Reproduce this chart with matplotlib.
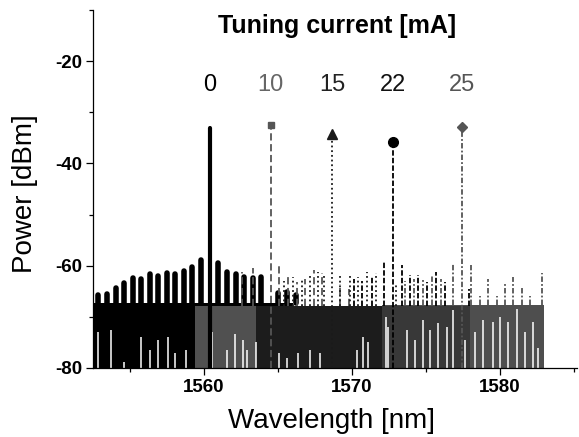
import numpy as np
import matplotlib
matplotlib.use('Agg')
import matplotlib.pyplot as plt
from matplotlib.ticker import MultipleLocator

plt.rcParams['font.family'] = ['Liberation Sans', 'DejaVu Sans']
plt.rcParams['axes.unicode_minus'] = False

# ---- data ----
currents = ['0', '10', '15', '22', '25']
peak_wl = [1560.4, 1564.5, 1568.65, 1572.8, 1577.4]
peak_dbm = [-33.0, -32.5, -34.3, -35.9, -32.8]

# side modes of each spectrum
mode_wl_0 = [1552.86, 1553.47, 1554.03, 1554.62, 1555.19, 1555.74, 1556.35, 1556.91,
             1557.48, 1558.04, 1558.65, 1559.21, 1559.78, 1560.97, 1561.53, 1562.14,
             1562.72, 1563.29, 1563.85, 1565.02, 1565.6, 1566.2]
mode_dbm_0 = [-65.7, -65.5, -64.4, -63.4, -62.4, -62.6, -61.6, -62.0,
              -61.4, -61.6, -61.0, -60.3, -58.9, -59.4, -61.2, -61.6,
              -62.2, -62.4, -62.2, -65.3, -65.1, -65.7]
mode_wl_10 = [1562.6, 1563.3, 1565.1, 1565.7, 1566.3, 1566.85, 1567.4, 1568.0, 1569.2, 1569.8]
mode_dbm_10 = [-61.2, -60.5, -59.9, -62.2, -63.1, -62.6, -60.9, -61.5, -63.5, -64.5]
mode_wl_15 = [1565.4, 1566.0, 1566.6, 1567.15, 1567.7, 1568.1, 1569.19, 1569.86,
              1570.43, 1571.04, 1571.62, 1573.0]
mode_dbm_15 = [-63.0, -62.2, -62.8, -62.0, -61.2, -61.6, -61.8, -61.8,
               -62.2, -61.2, -61.5, -63.5]
mode_wl_22 = [1570.1, 1570.7, 1571.35, 1572.18, 1573.36, 1573.92, 1574.48, 1575.09,
              1575.68, 1576.28, 1577.9]
mode_dbm_22 = [-62.6, -63.0, -62.3, -59.2, -59.9, -61.8, -61.9, -63.1,
               -61.2, -63.1, -64.5]
mode_wl_25 = [1573.6, 1574.2, 1574.8, 1575.4, 1576.0, 1576.85, 1578.02, 1578.65,
              1579.17, 1579.78, 1580.34, 1580.9, 1581.47, 1582.03, 1582.82]
mode_dbm_25 = [-63.0, -62.5, -62.8, -62.0, -62.5, -59.6, -59.9, -66.0,
               -62.5, -66.0, -63.4, -62.2, -64.4, -66.0, -61.5]

# dense noise floor of each spectrum
floor_start = [1552.5, 1559.4, 1563.5, 1567.5, 1572.0]
floor_end = [1566.0, 1570.0, 1572.0, 1578.0, 1583.0]
floor_top = [-67.3, -67.8, -67.8, -67.8, -67.6]

# open dips reaching down to the floor of the OSA
gap_wl = [1552.84, 1553.72, 1554.59, 1555.74, 1556.35, 1556.89, 1557.57, 1558.04,
          1558.78, 1560.54, 1561.55, 1562.09, 1562.64, 1562.91, 1563.51, 1565.07,
          1565.6, 1566.35, 1567.16, 1567.84, 1570.34, 1570.74, 1571.08, 1572.3,
          1572.43, 1573.72, 1574.26, 1574.8, 1575.27, 1575.81, 1576.42, 1576.82,
          1577.64, 1578.31, 1578.85, 1579.53, 1580.0, 1580.54, 1581.15, 1581.69,
          1582.23, 1582.57]
gap_top = [-73.0, -72.5, -78.8, -74.0, -76.4, -74.5, -74.0, -77.0,
           -76.4, -72.9, -76.4, -73.3, -74.5, -76.4, -75.0, -77.0,
           -78.0, -77.0, -76.5, -77.0, -76.4, -73.9, -75.0, -70.0,
           -72.0, -72.5, -74.5, -70.6, -72.5, -71.2, -72.0, -68.6,
           -74.5, -73.0, -70.6, -71.0, -70.0, -71.0, -68.4, -73.0,
           -71.0, -76.0]

mode_wl = [mode_wl_0, mode_wl_10, mode_wl_15, mode_wl_22, mode_wl_25]
mode_dbm = [mode_dbm_0, mode_dbm_10, mode_dbm_15, mode_dbm_22, mode_dbm_25]

# ---- styles ----
line_colors = ['black', '#555555', '#1a1a1a', 'black', '#555555']
band_colors = ['black', '#505050', '#1c1c1c', '#383838', '#4e4e4e']
label_colors = ['black', '#666666', '#222222', '#111111', '#555555']
dash_list = [None, (4, 2), (1, 1.6), (3, 1.2), (3, 1.2, 1, 1.2)]
marker_list = [None, 's', '^', 'o', 'D']
msize_list = [0, 5, 7, 7, 5.5]
band_order = [0, 1, 4, 3, 2]


fig = plt.figure(figsize=(5.79, 4.37), dpi=100)
ax = fig.add_axes([0.1606, 0.1579, 0.836, 0.8192])

for i in band_order:
    ax.fill_between([floor_start[i], floor_end[i]], -80, floor_top[i],
                    color=band_colors[i], lw=0)

ax.vlines(gap_wl, -80, gap_top, color='white', lw=1.1, zorder=2)

for i in range(len(currents)):
    top = floor_top[i]
    if i == 0:
        ax.vlines(mode_wl[i], top, mode_dbm[i], color=line_colors[i], lw=4,
                  capstyle='round', zorder=3)
    else:
        lc = ax.vlines(mode_wl[i], top, mode_dbm[i], color=line_colors[i], lw=1.3,
                       zorder=3)
        lc.set_linestyle((0, dash_list[i]))

for i in range(len(currents)):
    if i == 0:
        ax.plot([peak_wl[i], peak_wl[i]], [-80, peak_dbm[i]], color=line_colors[i],
                lw=3, solid_capstyle='round', zorder=4)
    else:
        ln, = ax.plot([peak_wl[i], peak_wl[i]], [-80, peak_dbm[i]], color=line_colors[i],
                      lw=1.3, zorder=4)
        ln.set_dashes(dash_list[i])
        ax.plot(peak_wl[i], peak_dbm[i], marker=marker_list[i], ms=msize_list[i],
                color=line_colors[i], ls='none', zorder=5)
    ax.text(peak_wl[i], -25.8, currents[i], color=label_colors[i], fontsize=17,
            ha='center', va='baseline')

fig.text(337 / 579, 1 - 33 / 437, 'Tuning current [mA]', fontsize=18,
         fontweight='bold', ha='center', va='baseline')

ax.set_xlim(1552.5, 1585.2)
ax.set_ylim(-80, -10)
ax.xaxis.set_major_locator(MultipleLocator(10))
ax.xaxis.set_minor_locator(MultipleLocator(5))
ax.yaxis.set_major_locator(MultipleLocator(20))
ax.yaxis.set_minor_locator(MultipleLocator(10))
ax.spines['top'].set_visible(False)
ax.spines['right'].set_visible(False)
for s in ['left', 'bottom']:
    ax.spines[s].set_linewidth(0.9)
ax.tick_params(which='major', length=5, width=0.9, labelsize=13.5, pad=3)
ax.tick_params(which='minor', length=3, width=0.9)
for lab in ax.get_xticklabels() + ax.get_yticklabels():
    lab.set_fontweight('bold')

fig.text(332 / 579, 1 - 428 / 437, 'Wavelength [nm]', fontsize=20,
         ha='center', va='baseline')
fig.text(25 / 579, 1 - 194 / 437, 'Power [dBm]', fontsize=20, rotation=90,
         ha='center', va='center')

fig.savefig('out.png', dpi=100)
